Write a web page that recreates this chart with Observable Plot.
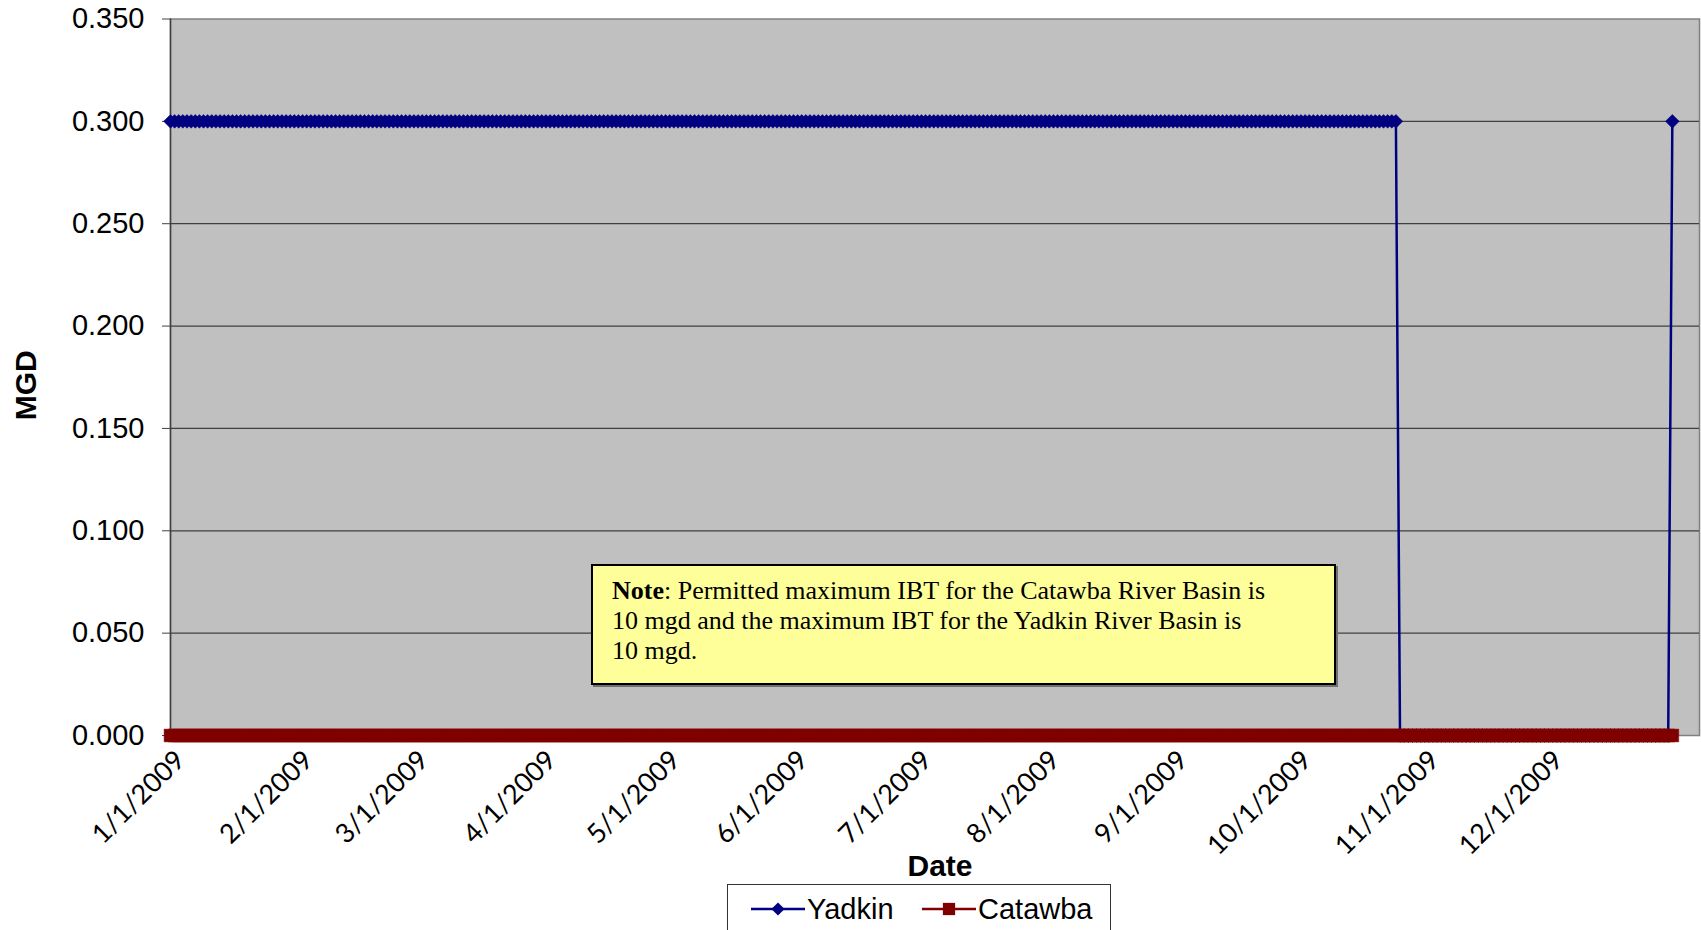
<!DOCTYPE html>
<html>
<head>
<meta charset="utf-8">
<script src="https://cdn.jsdelivr.net/npm/d3@7"></script>
<script src="https://cdn.jsdelivr.net/npm/@observablehq/plot@0.6"></script>
<style>
  html, body { margin: 0; padding: 0; background: #fff; }
  #wrap { position: relative; width: 1701px; height: 930px; overflow: hidden; background: #fff; }
  #note {
    position: absolute; left: 591px; top: 564px; width: 745px; height: 121px;
    box-sizing: border-box; background: #FFFF99; border: 2px solid #000;
    box-shadow: 2px 2px 0 #707070;
    font-family: "Liberation Serif", "Times New Roman", serif; font-size: 26px;
    line-height: 30px; padding: 10px 0 0 19px; color: #000;
  }
  #legend {
    position: relative; margin-left: 727px; width: 384px; height: 60px;
    box-sizing: border-box; border: 1px solid #333; background: #fff;
    font-family: "Liberation Sans", Arial, sans-serif; font-size: 29px; color: #000;
  }
  #legend .item { position: absolute; top: 7px; display: flex; align-items: center; }
  #legend svg { display: block; margin-right: 2px; }
  g[aria-label="x-axis tick label"] text { font-family: Lato, "Open Sans", sans-serif; }
</style>
</head>
<body>
<div id="wrap">
  <div id="chart"></div>
  <div id="note"><b>Note</b>: Permitted maximum IBT for the Catawba River Basin is<br>10 mgd and the maximum IBT for the Yadkin River Basin is<br>10 mgd.</div>
  <div id="legend"></div>
</div>
<script>
// ---------- data ----------
const seriesNames = ["Yadkin", "Catawba"];
const seriesColors = ["#000080", "#800000"];
const startDate = "2009-01-01";
const endDate = "2010-01-01"; // exclusive
const monthTicks = ["2009-01-01","2009-02-01","2009-03-01","2009-04-01","2009-05-01","2009-06-01",
                    "2009-07-01","2009-08-01","2009-09-01","2009-10-01","2009-11-01","2009-12-01"];
const yTicks = [0, 0.05, 0.10, 0.15, 0.20, 0.25, 0.30, 0.35];

// Daily Yadkin values (MGD), month by month
const yadkinJan = [0.3,0.3,0.3,0.3,0.3,0.3,0.3,0.3,0.3,0.3, 0.3,0.3,0.3,0.3,0.3,0.3,0.3,0.3,0.3,0.3, 0.3,0.3,0.3,0.3,0.3,0.3,0.3,0.3,0.3,0.3, 0.3];
const yadkinFeb = [0.3,0.3,0.3,0.3,0.3,0.3,0.3,0.3,0.3,0.3, 0.3,0.3,0.3,0.3,0.3,0.3,0.3,0.3,0.3,0.3, 0.3,0.3,0.3,0.3,0.3,0.3,0.3,0.3];
const yadkinMar = [0.3,0.3,0.3,0.3,0.3,0.3,0.3,0.3,0.3,0.3, 0.3,0.3,0.3,0.3,0.3,0.3,0.3,0.3,0.3,0.3, 0.3,0.3,0.3,0.3,0.3,0.3,0.3,0.3,0.3,0.3, 0.3];
const yadkinApr = [0.3,0.3,0.3,0.3,0.3,0.3,0.3,0.3,0.3,0.3, 0.3,0.3,0.3,0.3,0.3,0.3,0.3,0.3,0.3,0.3, 0.3,0.3,0.3,0.3,0.3,0.3,0.3,0.3,0.3,0.3];
const yadkinMay = [0.3,0.3,0.3,0.3,0.3,0.3,0.3,0.3,0.3,0.3, 0.3,0.3,0.3,0.3,0.3,0.3,0.3,0.3,0.3,0.3, 0.3,0.3,0.3,0.3,0.3,0.3,0.3,0.3,0.3,0.3, 0.3];
const yadkinJun = [0.3,0.3,0.3,0.3,0.3,0.3,0.3,0.3,0.3,0.3, 0.3,0.3,0.3,0.3,0.3,0.3,0.3,0.3,0.3,0.3, 0.3,0.3,0.3,0.3,0.3,0.3,0.3,0.3,0.3,0.3];
const yadkinJul = [0.3,0.3,0.3,0.3,0.3,0.3,0.3,0.3,0.3,0.3, 0.3,0.3,0.3,0.3,0.3,0.3,0.3,0.3,0.3,0.3, 0.3,0.3,0.3,0.3,0.3,0.3,0.3,0.3,0.3,0.3, 0.3];
const yadkinAug = [0.3,0.3,0.3,0.3,0.3,0.3,0.3,0.3,0.3,0.3, 0.3,0.3,0.3,0.3,0.3,0.3,0.3,0.3,0.3,0.3, 0.3,0.3,0.3,0.3,0.3,0.3,0.3,0.3,0.3,0.3, 0.3];
const yadkinSep = [0.3,0.3,0.3,0.3,0.3,0.3,0.3,0.3,0.3,0.3, 0.3,0.3,0.3,0.3,0.3,0.3,0.3,0.3,0.3,0.3, 0.3,0.3,0.3,0.3,0.3,0.3,0.3,0.3,0.3,0.3];
const yadkinOct = [0.3,0.3,0.3,0.3,0.3,0.3,0.3,0.3,0.3,0.3, 0.3,0.3,0.3,0.3,0.3,0.3,0.3,0.3,0.3,0.3, 0.3,0.3,0.3,0.3,0.3,0,0,0,0,0, 0];
const yadkinNov = [0,0,0,0,0,0,0,0,0,0, 0,0,0,0,0,0,0,0,0,0, 0,0,0,0,0,0,0,0,0,0];
const yadkinDec = [0,0,0,0,0,0,0,0,0,0, 0,0,0,0,0,0,0,0,0,0, 0,0,0,0,0,0,0,0,0,0, 0.3];

// Daily Catawba values (MGD), month by month
const catawbaJan = [0,0,0,0,0,0,0,0,0,0, 0,0,0,0,0,0,0,0,0,0, 0,0,0,0,0,0,0,0,0,0, 0];
const catawbaFeb = [0,0,0,0,0,0,0,0,0,0, 0,0,0,0,0,0,0,0,0,0, 0,0,0,0,0,0,0,0];
const catawbaMar = [0,0,0,0,0,0,0,0,0,0, 0,0,0,0,0,0,0,0,0,0, 0,0,0,0,0,0,0,0,0,0, 0];
const catawbaApr = [0,0,0,0,0,0,0,0,0,0, 0,0,0,0,0,0,0,0,0,0, 0,0,0,0,0,0,0,0,0,0];
const catawbaMay = [0,0,0,0,0,0,0,0,0,0, 0,0,0,0,0,0,0,0,0,0, 0,0,0,0,0,0,0,0,0,0, 0];
const catawbaJun = [0,0,0,0,0,0,0,0,0,0, 0,0,0,0,0,0,0,0,0,0, 0,0,0,0,0,0,0,0,0,0];
const catawbaJul = [0,0,0,0,0,0,0,0,0,0, 0,0,0,0,0,0,0,0,0,0, 0,0,0,0,0,0,0,0,0,0, 0];
const catawbaAug = [0,0,0,0,0,0,0,0,0,0, 0,0,0,0,0,0,0,0,0,0, 0,0,0,0,0,0,0,0,0,0, 0];
const catawbaSep = [0,0,0,0,0,0,0,0,0,0, 0,0,0,0,0,0,0,0,0,0, 0,0,0,0,0,0,0,0,0,0];
const catawbaOct = [0,0,0,0,0,0,0,0,0,0, 0,0,0,0,0,0,0,0,0,0, 0,0,0,0,0,0,0,0,0,0, 0];
const catawbaNov = [0,0,0,0,0,0,0,0,0,0, 0,0,0,0,0,0,0,0,0,0, 0,0,0,0,0,0,0,0,0,0];
const catawbaDec = [0,0,0,0,0,0,0,0,0,0, 0,0,0,0,0,0,0,0,0,0, 0,0,0,0,0,0,0,0,0,0, 0];

// ---------- build table ----------
const yadkin = [].concat(yadkinJan, yadkinFeb, yadkinMar, yadkinApr, yadkinMay, yadkinJun,
                         yadkinJul, yadkinAug, yadkinSep, yadkinOct, yadkinNov, yadkinDec);
const catawba = [].concat(catawbaJan, catawbaFeb, catawbaMar, catawbaApr, catawbaMay, catawbaJun,
                          catawbaJul, catawbaAug, catawbaSep, catawbaOct, catawbaNov, catawbaDec);
const days = d3.utcDay.range(new Date(startDate), new Date(endDate));
const yadkinRows = days.map((d, i) => ({date: d, value: yadkin[i], series: seriesNames[0]}));
const catawbaRows = days.map((d, i) => ({date: d, value: catawba[i], series: seriesNames[1]}));

const x0 = new Date(startDate);
const xMax = new Date(Date.UTC(2010, 0, 6, 14)); // axis end (Excel date axis padding)
const fmt = d3.utcFormat("%-m/%-d/%Y");

const chart = Plot.plot({
  width: 1701,
  height: 884,
  marginLeft: 170,
  marginRight: 2,
  marginTop: 18.5,
  marginBottom: 149,
  style: {fontFamily: "'Liberation Sans', Arial, sans-serif", background: "transparent", overflow: "visible"},
  x: {type: "utc", domain: [x0, xMax]},
  y: {domain: [0, 0.35]},
  marks: [
    Plot.frame({fill: "#C0C0C0", stroke: "#808080", strokeWidth: 1.5}),
    Plot.ruleY(yTicks.slice(1, -1), {stroke: "#404040", strokeWidth: 1.2}),
    Plot.ruleX([x0], {stroke: "#404040", strokeWidth: 1.5}),
    Plot.axisY({
      ticks: yTicks, tickFormat: d3.format(".3f"), tickSize: 8, tickPadding: 18,
      fontSize: 29, label: null, stroke: "#404040", fill: "#000"
    }),
    Plot.axisX({
      ticks: monthTicks.map(d => new Date(d)), tickFormat: fmt, tickRotate: -45,
      tickSize: 0, tickPadding: 20, dx: 10, fontSize: 27,
      label: null, fill: "#000"
    }),
    Plot.line(yadkinRows, {x: "date", y: "value", stroke: seriesColors[0], strokeWidth: 2.5}),
    Plot.dot(yadkinRows, {x: "date", y: "value", symbol: "diamond2", r: 6.2, fill: seriesColors[0], stroke: seriesColors[0], strokeWidth: 0.5}),
    Plot.line(catawbaRows, {x: "date", y: "value", stroke: seriesColors[1], strokeWidth: 2.5}),
    Plot.dot(catawbaRows, {x: "date", y: "value", symbol: "square", r: 7.2, fill: seriesColors[1], stroke: seriesColors[1], strokeWidth: 0.5}),
    Plot.text(["MGD"], {frameAnchor: "left", textAnchor: "middle", dx: -144, dy: 8, rotate: -90, fontSize: 30, fontWeight: "bold", fill: "#000"}),
    Plot.text(["Date"], {frameAnchor: "bottom", textAnchor: "middle", dy: 140, dx: 5, fontSize: 30, fontWeight: "bold", fill: "#000"})
  ]
});
document.getElementById("chart").appendChild(chart);
d3.select(chart).selectAll('g[aria-label="x-axis tick label"]')
  .style("font-family", "Lato, 'Open Sans', sans-serif");

// ---------- legend ----------
const legend = d3.select("#legend");
const swatchLeft = [23, 194];
seriesNames.forEach((name, i) => {
  const item = legend.append("div").attr("class", "item").style("left", swatchLeft[i] + "px");
  const sw = item.append("svg").attr("width", 54).attr("height", 34);
  sw.append("line").attr("x1", 0).attr("x2", 54).attr("y1", 17).attr("y2", 17)
    .attr("stroke", seriesColors[i]).attr("stroke-width", 2.5);
  const sym = i === 0 ? d3.symbol(d3.symbolDiamond2, 110) : d3.symbol(d3.symbolSquare, 150);
  sw.append("path").attr("d", sym()).attr("transform", "translate(27,17)").attr("fill", seriesColors[i]);
  item.append("span").text(name);
});
</script>
</body>
</html>
